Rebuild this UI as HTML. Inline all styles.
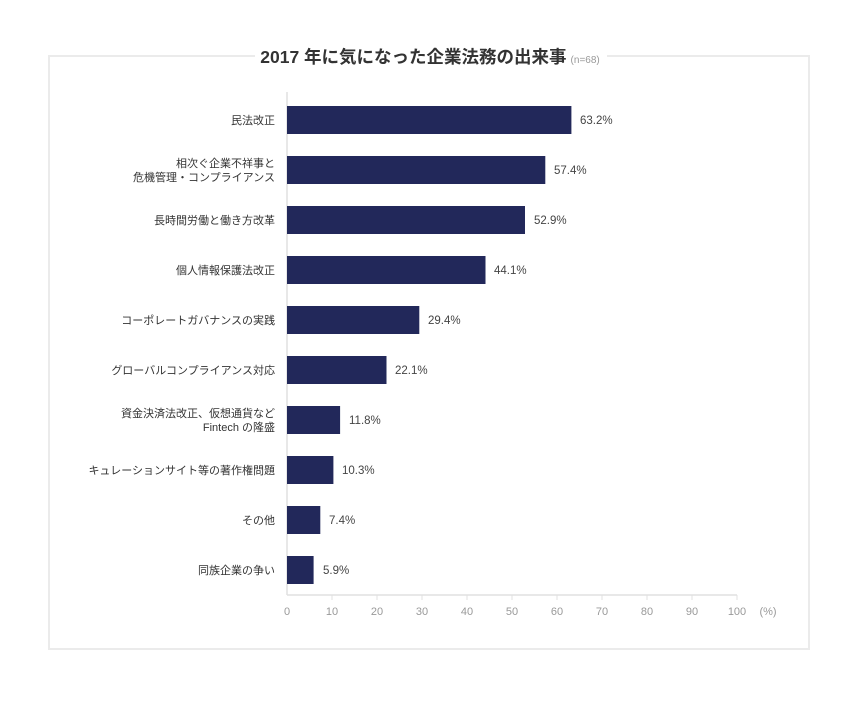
<!DOCTYPE html>
<html><head><meta charset="utf-8"><style>
body{margin:0;background:#fff;width:860px;height:700px;overflow:hidden;font-family:"Liberation Sans","Noto Sans CJK JP",sans-serif;}
</style></head><body>
<svg width="860" height="700" xmlns="http://www.w3.org/2000/svg" style="font-family:'Liberation Sans','Noto Sans CJK JP',sans-serif">
<rect x="49" y="56" width="760" height="593" fill="none" stroke="#ebebeb" stroke-width="2"/>
<rect x="255" y="44" width="352" height="24" fill="#fff"/>
<text x="430" y="63" text-anchor="middle" font-size="17.5" font-weight="600" fill="#333">2017 年に気になった企業法務の出来事<tspan font-size="10" font-weight="normal" fill="#999" dx="4">(n=68)</tspan></text>
<line x1="287" y1="92" x2="287" y2="595" stroke="#e0e0e0" stroke-width="1.5"/>
<line x1="287" y1="595" x2="737" y2="595" stroke="#e0e0e0" stroke-width="1.5"/>
<g stroke="#e0e0e0" stroke-width="1">
<line x1="332" y1="595" x2="332" y2="600"/><line x1="377" y1="595" x2="377" y2="600"/><line x1="422" y1="595" x2="422" y2="600"/><line x1="467" y1="595" x2="467" y2="600"/><line x1="512" y1="595" x2="512" y2="600"/><line x1="557" y1="595" x2="557" y2="600"/><line x1="602" y1="595" x2="602" y2="600"/><line x1="647" y1="595" x2="647" y2="600"/><line x1="692" y1="595" x2="692" y2="600"/><line x1="737" y1="595" x2="737" y2="600"/>
</g>
<g font-size="11" fill="#999" text-anchor="middle">
<text x="287" y="615">0</text><text x="332" y="615">10</text><text x="377" y="615">20</text><text x="422" y="615">30</text><text x="467" y="615">40</text><text x="512" y="615">50</text><text x="557" y="615">60</text><text x="602" y="615">70</text><text x="647" y="615">80</text><text x="692" y="615">90</text><text x="737" y="615">100</text><text x="768" y="615">(%)</text>
</g>
<g fill="#22285a">
<rect x="287" y="106" width="284.4" height="28"/>
<rect x="287" y="156" width="258.3" height="28"/>
<rect x="287" y="206" width="238" height="28"/>
<rect x="287" y="256" width="198.5" height="28"/>
<rect x="287" y="306" width="132.3" height="28"/>
<rect x="287" y="356" width="99.5" height="28"/>
<rect x="287" y="406" width="53.1" height="28"/>
<rect x="287" y="456" width="46.4" height="28"/>
<rect x="287" y="506" width="33.3" height="28"/>
<rect x="287" y="556" width="26.6" height="28"/>
</g>
<g font-size="11.5" fill="#444">
<text x="580" y="124">63.2%</text>
<text x="554" y="174">57.4%</text>
<text x="534" y="224">52.9%</text>
<text x="494" y="274">44.1%</text>
<text x="428" y="324">29.4%</text>
<text x="395" y="374">22.1%</text>
<text x="349" y="424">11.8%</text>
<text x="342" y="474">10.3%</text>
<text x="329" y="524">7.4%</text>
<text x="323" y="574">5.9%</text>
</g>
<g font-size="11" fill="#333" text-anchor="end">
<text x="275" y="124">民法改正</text>
<text x="275" y="167">相次ぐ企業不祥事と</text>
<text x="275" y="181">危機管理・コンプライアンス</text>
<text x="275" y="224">長時間労働と働き方改革</text>
<text x="275" y="274">個人情報保護法改正</text>
<text x="275" y="324">コーポレートガバナンスの実践</text>
<text x="275" y="374">グローバルコンプライアンス対応</text>
<text x="275" y="417">資金決済法改正、仮想通貨など</text>
<text x="275" y="431">Fintech の隆盛</text>
<text x="275" y="474">キュレーションサイト等の著作権問題</text>
<text x="275" y="524">その他</text>
<text x="275" y="574">同族企業の争い</text>
</g>
</svg>
</body></html>
